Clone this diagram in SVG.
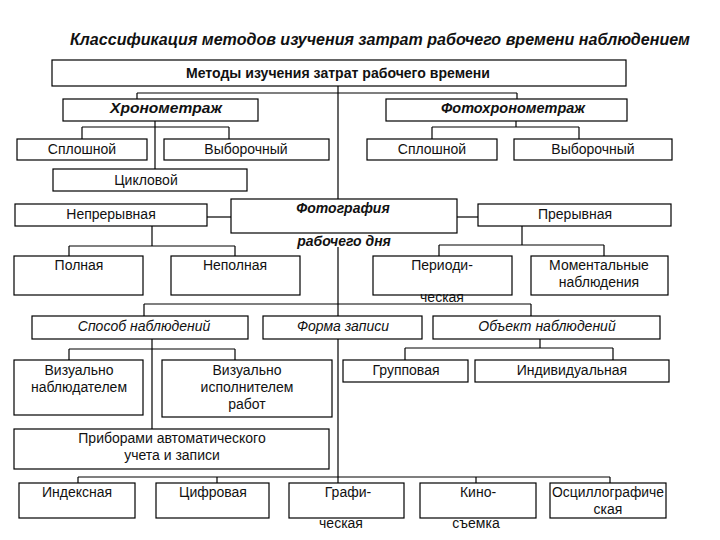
<svg xmlns="http://www.w3.org/2000/svg" width="720" height="540" viewBox="0 0 720 540">
<style>
.b{fill:#fff;stroke:#000;stroke-width:1.2}
.t{font-family:"Liberation Sans",Arial,sans-serif;font-size:14px;fill:#111;text-anchor:middle}
.bi{font-weight:bold;font-style:italic;font-size:14px}
.bo{font-weight:bold;font-size:14px}
.it{font-style:italic;font-size:14px}
#conn line{stroke:#000;stroke-width:1.2}
</style>
<rect width="720" height="540" fill="#fff"/>
<text class="t bi" x="380" y="45" style="font-size:16px" textLength="620" lengthAdjust="spacingAndGlyphs">Классификация методов изучения затрат рабочего времени наблюдением</text>
<g id="conn">
<line x1="338" y1="86" x2="338" y2="199"/>
<line x1="338" y1="247" x2="338" y2="316"/>
<line x1="338" y1="339" x2="338" y2="483"/>
<line x1="137" y1="93" x2="517" y2="93"/>
<line x1="137" y1="93" x2="137" y2="99"/>
<line x1="517" y1="93" x2="517" y2="99"/>
<line x1="155" y1="121" x2="155" y2="169"/>
<line x1="82" y1="127" x2="229" y2="127"/>
<line x1="82" y1="127" x2="82" y2="139"/>
<line x1="229" y1="127" x2="229" y2="139"/>
<line x1="516" y1="121" x2="516" y2="127"/>
<line x1="432" y1="127" x2="579" y2="127"/>
<line x1="432" y1="127" x2="432" y2="139"/>
<line x1="579" y1="127" x2="579" y2="139"/>
<line x1="207" y1="217" x2="231" y2="217"/>
<line x1="457" y1="217" x2="478" y2="217"/>
<line x1="152" y1="226" x2="152" y2="246"/>
<line x1="69" y1="246" x2="235" y2="246"/>
<line x1="69" y1="246" x2="69" y2="256"/>
<line x1="235" y1="246" x2="235" y2="256"/>
<line x1="522" y1="226" x2="522" y2="245"/>
<line x1="439" y1="245" x2="604" y2="245"/>
<line x1="439" y1="245" x2="439" y2="256"/>
<line x1="604" y1="245" x2="604" y2="256"/>
<line x1="144" y1="304" x2="531" y2="304"/>
<line x1="144" y1="304" x2="144" y2="316"/>
<line x1="531" y1="304" x2="531" y2="316"/>
<line x1="152" y1="339" x2="152" y2="429"/>
<line x1="69" y1="349" x2="235" y2="349"/>
<line x1="69" y1="349" x2="69" y2="360"/>
<line x1="235" y1="349" x2="235" y2="360"/>
<line x1="540" y1="339" x2="540" y2="348"/>
<line x1="405" y1="348" x2="613" y2="348"/>
<line x1="405" y1="348" x2="405" y2="360"/>
<line x1="613" y1="348" x2="613" y2="360"/>
<line x1="78" y1="477" x2="610" y2="477"/>
<line x1="78" y1="477" x2="78" y2="483"/>
<line x1="217" y1="477" x2="217" y2="483"/>
<line x1="476" y1="477" x2="476" y2="483"/>
<line x1="610" y1="477" x2="610" y2="483"/>
</g>
<g id="root"><rect class="b" x="52" y="60" width="574" height="26"/><text class="t bo" x="338" y="78" textLength="304" lengthAdjust="spacingAndGlyphs">Методы изучения затрат рабочего времени</text></g>
<g id="chrono"><rect class="b" x="63" y="99" width="195" height="22"/><text class="t bi" x="166" y="113" textLength="112" lengthAdjust="spacingAndGlyphs">Хронометраж</text></g>
<g id="photochrono"><rect class="b" x="386" y="99" width="241" height="22"/><text class="t bi" x="513" y="113" textLength="144" lengthAdjust="spacingAndGlyphs">Фотохронометраж</text></g>
<g id="chr-solid"><rect class="b" x="17" y="139" width="130" height="21"/><text class="t" x="82" y="154">Сплошной</text></g>
<g id="chr-sample"><rect class="b" x="164" y="139" width="165" height="21"/><text class="t" x="246" y="154">Выборочный</text></g>
<g id="pchr-solid"><rect class="b" x="367" y="139" width="130" height="21"/><text class="t" x="432" y="154">Сплошной</text></g>
<g id="pchr-sample"><rect class="b" x="514" y="139" width="158" height="21"/><text class="t" x="593" y="154">Выборочный</text></g>
<g id="cyclic"><rect class="b" x="53" y="169" width="194" height="22"/><text class="t" x="146" y="185">Цикловой</text></g>
<g id="photo-day"><rect class="b" x="231" y="199" width="226" height="34"/><text class="t bi" x="343" y="213">Фотография</text><text class="t bi" x="344" y="246">рабочего дня</text></g>
<g id="continuous"><rect class="b" x="15" y="204" width="192" height="22"/><text class="t" x="111" y="219">Непрерывная</text></g>
<g id="interrupted"><rect class="b" x="478" y="204" width="193" height="22"/><text class="t" x="575" y="219">Прерывная</text></g>
<g id="full"><rect class="b" x="14" y="256" width="129" height="39"/><text class="t" x="79" y="270">Полная</text></g>
<g id="partial"><rect class="b" x="171" y="256" width="129" height="39"/><text class="t" x="235" y="270">Неполная</text></g>
<g id="periodic"><rect class="b" x="373" y="256" width="139" height="39"/><text class="t" x="442" y="270">Периоди-</text><text class="t" x="442" y="302">ческая</text></g>
<g id="momentary"><rect class="b" x="531" y="256" width="137" height="39"/><text class="t" x="599" y="270">Моментальные</text><text class="t" x="599" y="287">наблюдения</text></g>
<g id="method"><rect class="b" x="32" y="316" width="216" height="23"/><text class="t it" x="144" y="331">Способ наблюдений</text></g>
<g id="form"><rect class="b" x="263" y="316" width="159" height="23"/><text class="t it" x="343" y="331">Форма записи</text></g>
<g id="object"><rect class="b" x="433" y="316" width="227" height="23"/><text class="t it" x="547" y="331">Объект наблюдений</text></g>
<g id="vis-obs"><rect class="b" x="14" y="360" width="129" height="55"/><text class="t" x="79" y="375">Визуально</text><text class="t" x="79" y="392">наблюдателем</text></g>
<g id="vis-exec"><rect class="b" x="162" y="360" width="170" height="57"/><text class="t" x="247" y="375">Визуально</text><text class="t" x="247" y="392">исполнителем</text><text class="t" x="247" y="409">работ</text></g>
<g id="group"><rect class="b" x="343" y="360" width="125" height="22"/><text class="t" x="406" y="375">Групповая</text></g>
<g id="individual"><rect class="b" x="475" y="360" width="194" height="22"/><text class="t" x="572" y="375">Индивидуальная</text></g>
<g id="devices"><rect class="b" x="14" y="429" width="315" height="40"/><text class="t" x="172" y="443">Приборами автоматического</text><text class="t" x="172" y="460">учета и записи</text></g>
<g id="index"><rect class="b" x="19" y="483" width="116" height="35"/><text class="t" x="77" y="497">Индексная</text></g>
<g id="digital"><rect class="b" x="156" y="483" width="113" height="35"/><text class="t" x="213" y="497">Цифровая</text></g>
<g id="graphic"><rect class="b" x="289" y="483" width="115" height="35"/><text class="t" x="348" y="497">Графи-</text><text class="t" x="341" y="528">ческая</text></g>
<g id="film"><rect class="b" x="420" y="483" width="116" height="35"/><text class="t" x="478" y="497">Кино-</text><text class="t" x="476" y="528">съемка</text></g>
<g id="oscillo"><rect class="b" x="550" y="483" width="116" height="35"/><text class="t" x="608" y="497" textLength="112" lengthAdjust="spacingAndGlyphs">Осциллографиче</text><text class="t" x="608" y="514">ская</text></g>
</svg>
